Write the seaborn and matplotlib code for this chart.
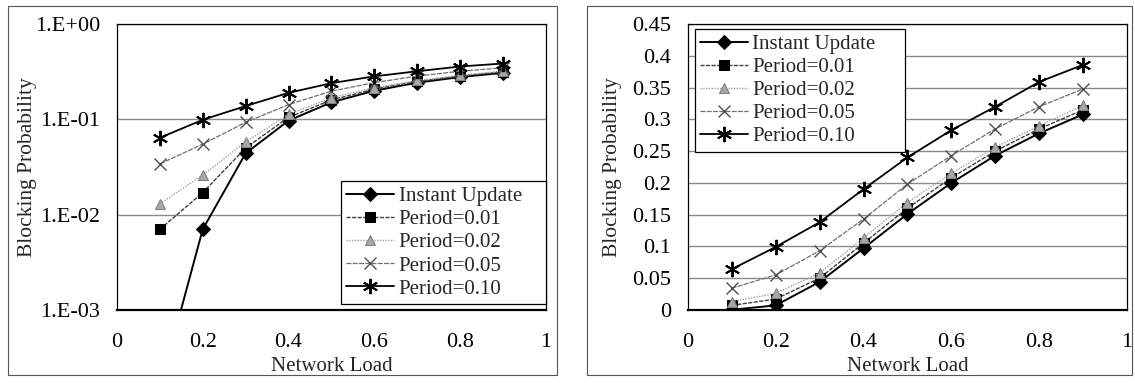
import numpy as np
import pandas as pd
import seaborn as sns
import matplotlib.pyplot as plt
from matplotlib.patches import Rectangle
from matplotlib.ticker import FixedLocator, FuncFormatter

# ======================================
# Data
# ======================================

load = [0.1, 0.2, 0.3, 0.4, 0.5, 0.6, 0.7, 0.8, 0.9]

instant = [0.00015, 0.007, 0.044, 0.097, 0.151, 0.200, 0.243, 0.278, 0.308]
period_001 = [0.007, 0.017, 0.050, 0.105, 0.160, 0.208, 0.250, 0.285, 0.315]
period_002 = [0.013, 0.026, 0.058, 0.113, 0.169, 0.215, 0.256, 0.290, 0.322]
period_005 = [0.034, 0.055, 0.093, 0.143, 0.198, 0.243, 0.285, 0.320, 0.348]
period_010 = [0.064, 0.099, 0.138, 0.190, 0.240, 0.283, 0.320, 0.359, 0.386]

series_names = ["Instant Update", "Period=0.01", "Period=0.02", "Period=0.05", "Period=0.10"]
series_values = [instant, period_001, period_002, period_005, period_010]

# ======================================
# Styles
# ======================================

styles = {
    "Instant Update": dict(color="black", marker="D", markersize=7, linestyle="-",
                           linewidth=1.4, markerfacecolor="black", markeredgecolor="black"),
    "Period=0.01": dict(color="#404040", marker="s", markersize=7, linestyle=(0, (3, 1)),
                        linewidth=1.0, markerfacecolor="black", markeredgecolor="black"),
    "Period=0.02": dict(color="#a0a0a0", marker="^", markersize=7, linestyle=(0, (1, 1)),
                        linewidth=1.0, markerfacecolor="#a8a8a8", markeredgecolor="#808080"),
    "Period=0.05": dict(color="#707070", marker="x", markersize=8, linestyle=(0, (4, 1)),
                        linewidth=0.9, markeredgecolor="#505050", markeredgewidth=1.0),
    "Period=0.10": dict(color="black", marker=(6, 2, 0), markersize=11, linestyle="-",
                        linewidth=1.3, markeredgecolor="black", markeredgewidth=1.4),
}

sns.set_style("white")
plt.rcParams["font.family"] = ["Liberation Serif", "DejaVu Serif"]

fig = plt.figure(figsize=(11.35, 3.83), dpi=100)

# outer chart borders
for x0, w in [(0.007, 0.484), (0.517, 0.480)]:
    fig.patches.append(Rectangle((x0, 0.022), w, 0.963, transform=fig.transFigure,
                                 fill=False, edgecolor="#555555", linewidth=0.8))

ax1 = fig.add_axes([0.103, 0.191, 0.378, 0.746])
ax2 = fig.add_axes([0.606, 0.191, 0.387, 0.746])


def draw(ax):
    for name, vals in zip(series_names, series_values):
        st = styles[name]
        sns.lineplot(x=load, y=vals, ax=ax, label=name, **st)


draw(ax1)
draw(ax2)

# ======================================
# Left axis (log)
# ======================================

ax1.set_yscale("log")
ax1.set_ylim(1e-3, 1)
ax1.yaxis.set_major_locator(FixedLocator([1e-3, 1e-2, 1e-1, 1]))
ax1.yaxis.set_minor_locator(FixedLocator([]))
ax1.yaxis.set_major_formatter(FuncFormatter(lambda v, p: "1.E%+03d" % int(round(np.log10(v)))))

# ======================================
# Right axis (linear)
# ======================================

ax2.set_ylim(0, 0.45)
ax2.set_yticks(np.arange(0, 0.451, 0.05))
ax2.yaxis.set_major_formatter(FuncFormatter(lambda v, p: ("%.2f" % v).rstrip("0").rstrip(".") if v else "0"))

for ax in (ax1, ax2):
    ax.set_xlim(0, 1)
    ax.set_xticks([0, 0.2, 0.4, 0.6, 0.8, 1])
    ax.xaxis.set_major_formatter(FuncFormatter(lambda v, p: ("%.1f" % v).rstrip("0").rstrip(".") if v else "0"))
    ax.grid(axis="y", color="#8a8a8a", linewidth=1.0)
    ax.set_axisbelow(True)
    for s in ax.spines.values():
        s.set_visible(True)
        s.set_color("black")
        s.set_linewidth(0.9)
    ax.spines["bottom"].set_linewidth(1.6)
    ax.tick_params(axis="x", direction="inout", length=8, width=0.9, labelsize=16, pad=13, colors="black")
    ax.tick_params(axis="y", direction="out", length=5, width=0.9, labelsize=16, pad=7, colors="black")
    ax.set_xlabel("Network Load", fontsize=15, labelpad=3)
    ax.set_ylabel("Blocking Probability", fontsize=15.5)

ax1.yaxis.set_label_coords(-0.187, 0.5)
ax2.yaxis.set_label_coords(-0.150, 0.5)

legend_kw = dict(fontsize=15, frameon=True, fancybox=False, framealpha=1, edgecolor="black",
                 handlelength=2.3, handletextpad=0.2, borderpad=0.25, labelspacing=0.17,
                 borderaxespad=0.0, mode="expand")
leg1 = ax1.legend(loc="lower left", bbox_to_anchor=(0.523, 0.021, 0.477, 0.3), **legend_kw)
leg2 = ax2.legend(loc="upper left", bbox_to_anchor=(0.016, 0.0, 0.478, 0.9825), **legend_kw)
for leg in (leg1, leg2):
    leg.get_frame().set_linewidth(0.9)

fig.savefig("out.png", dpi=100)
